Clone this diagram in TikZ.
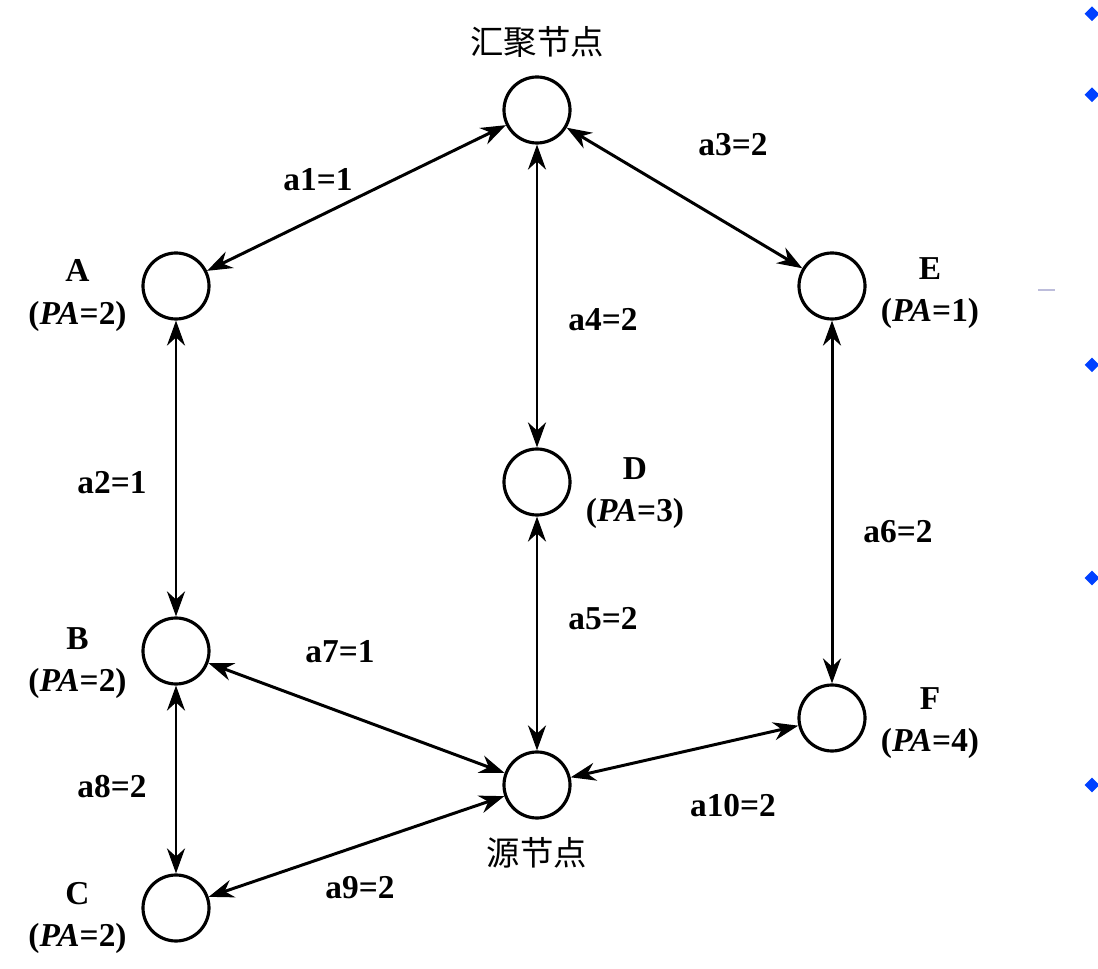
\documentclass[tikz,border=0pt]{standalone}
\usepackage{fontspec}
\setmainfont{Liberation Serif}
\newfontfamily\cjk{Noto Sans CJK SC}
\usetikzlibrary{arrows.meta,positioning,shapes.geometric}
\tikzset{
	nd/.style={circle,draw,line width=1.8pt,minimum size=1.32cm,inner sep=0pt},
	lnk/.style={line width=1.7pt,{Stealth[length=5mm,width=3.6mm]}-{Stealth[length=5mm,width=3.6mm]}},
	lbl/.style={font=\fontsize{19}{22}\selectfont\bfseries,align=center,inner sep=0pt},
	bul/.style={fill=blue!75!cyan,draw=none,diamond,inner sep=0pt}
}
\begin{document}
\begin{tikzpicture}
	\useasboundingbox (0,0) rectangle (21.96,19.36);
	%
	\node[nd] (sink) at (10.74,17.16) {};
	\node[nd] (A) at (3.52,13.64) {};
	\node[nd] (E) at (16.64,13.64) {};
	\node[nd] (D) at (10.74,9.72) {};
	\node[nd] (B) at (3.52,6.34) {};
	\node[nd] (F) at (16.64,5.0) {};
	\node[nd] (src) at (10.74,3.66) {};
	\node[nd] (C) at (3.52,1.2) {};
	
	% node texts
	\node[lbl,font=\fontsize{19}{22}\selectfont\cjk] (tsink) at (10.74,18.52) {汇聚节点};
	\node[lbl,font=\fontsize{19}{22}\selectfont\cjk] (tsrc) at (10.74,2.3) {源节点};
	\node[lbl] (tA) at (1.55,13.45) {A\\[2pt](\textit{PA}=2)};
	\node[lbl] (tE) at (18.6,13.5) {E\\[2pt](\textit{PA}=1)};
	\node[lbl] (tD) at (12.7,9.5) {D\\[2pt](\textit{PA}=3)};
	\node[lbl] (tB) at (1.55,6.1) {B\\[2pt](\textit{PA}=2)};
	\node[lbl] (tF) at (18.6,4.9) {F\\[2pt](\textit{PA}=4)};
	\node[lbl] (tC) at (1.55,1.0) {C\\[2pt](\textit{PA}=2)};
	
	% links
	\draw[lnk] (sink) -- (A);
	\draw[lnk] (sink) -- (E);
	\draw[lnk] (sink) -- (D);
	\draw[lnk] (A) -- (B);
	\draw[lnk] (E) -- (F);
	\draw[lnk] (D) -- (src);
	\draw[lnk] (B) -- (src);
	\draw[lnk] (B) -- (C);
	\draw[lnk] (F) -- (src);
	\draw[lnk] (src) -- (C);
	
	% link weights
	\node[lbl] (w1) at (6.36,15.76) {a1=1};
	\node[lbl] (w3) at (14.66,16.46) {a3=2};
	\node[lbl] (w4) at (12.06,12.96) {a4=2};
	\node[lbl] (w2) at (2.24,9.7) {a2=1};
	\node[lbl] (w6) at (17.96,8.72) {a6=2};
	\node[lbl] (w5) at (12.06,6.996) {a5=2};
	\node[lbl] (w7) at (6.8,6.32) {a7=1};
	\node[lbl] (w8) at (2.24,3.62) {a8=2};
	\node[lbl] (w10) at (14.66,3.24) {a10=2};
	\node[lbl] (w9) at (7.2,1.6) {a9=2};
	
	% slide bullets
	\foreach \y in {14,95,365,578,785}
	\node[bul,minimum size=0.3cm] at (21.84,{(968-\y)*0.02}) {};
	\draw[line width=1.5pt,blue!30!gray!40] (20.76,13.56) -- (21.1,13.56);
\end{tikzpicture}
\end{document}
